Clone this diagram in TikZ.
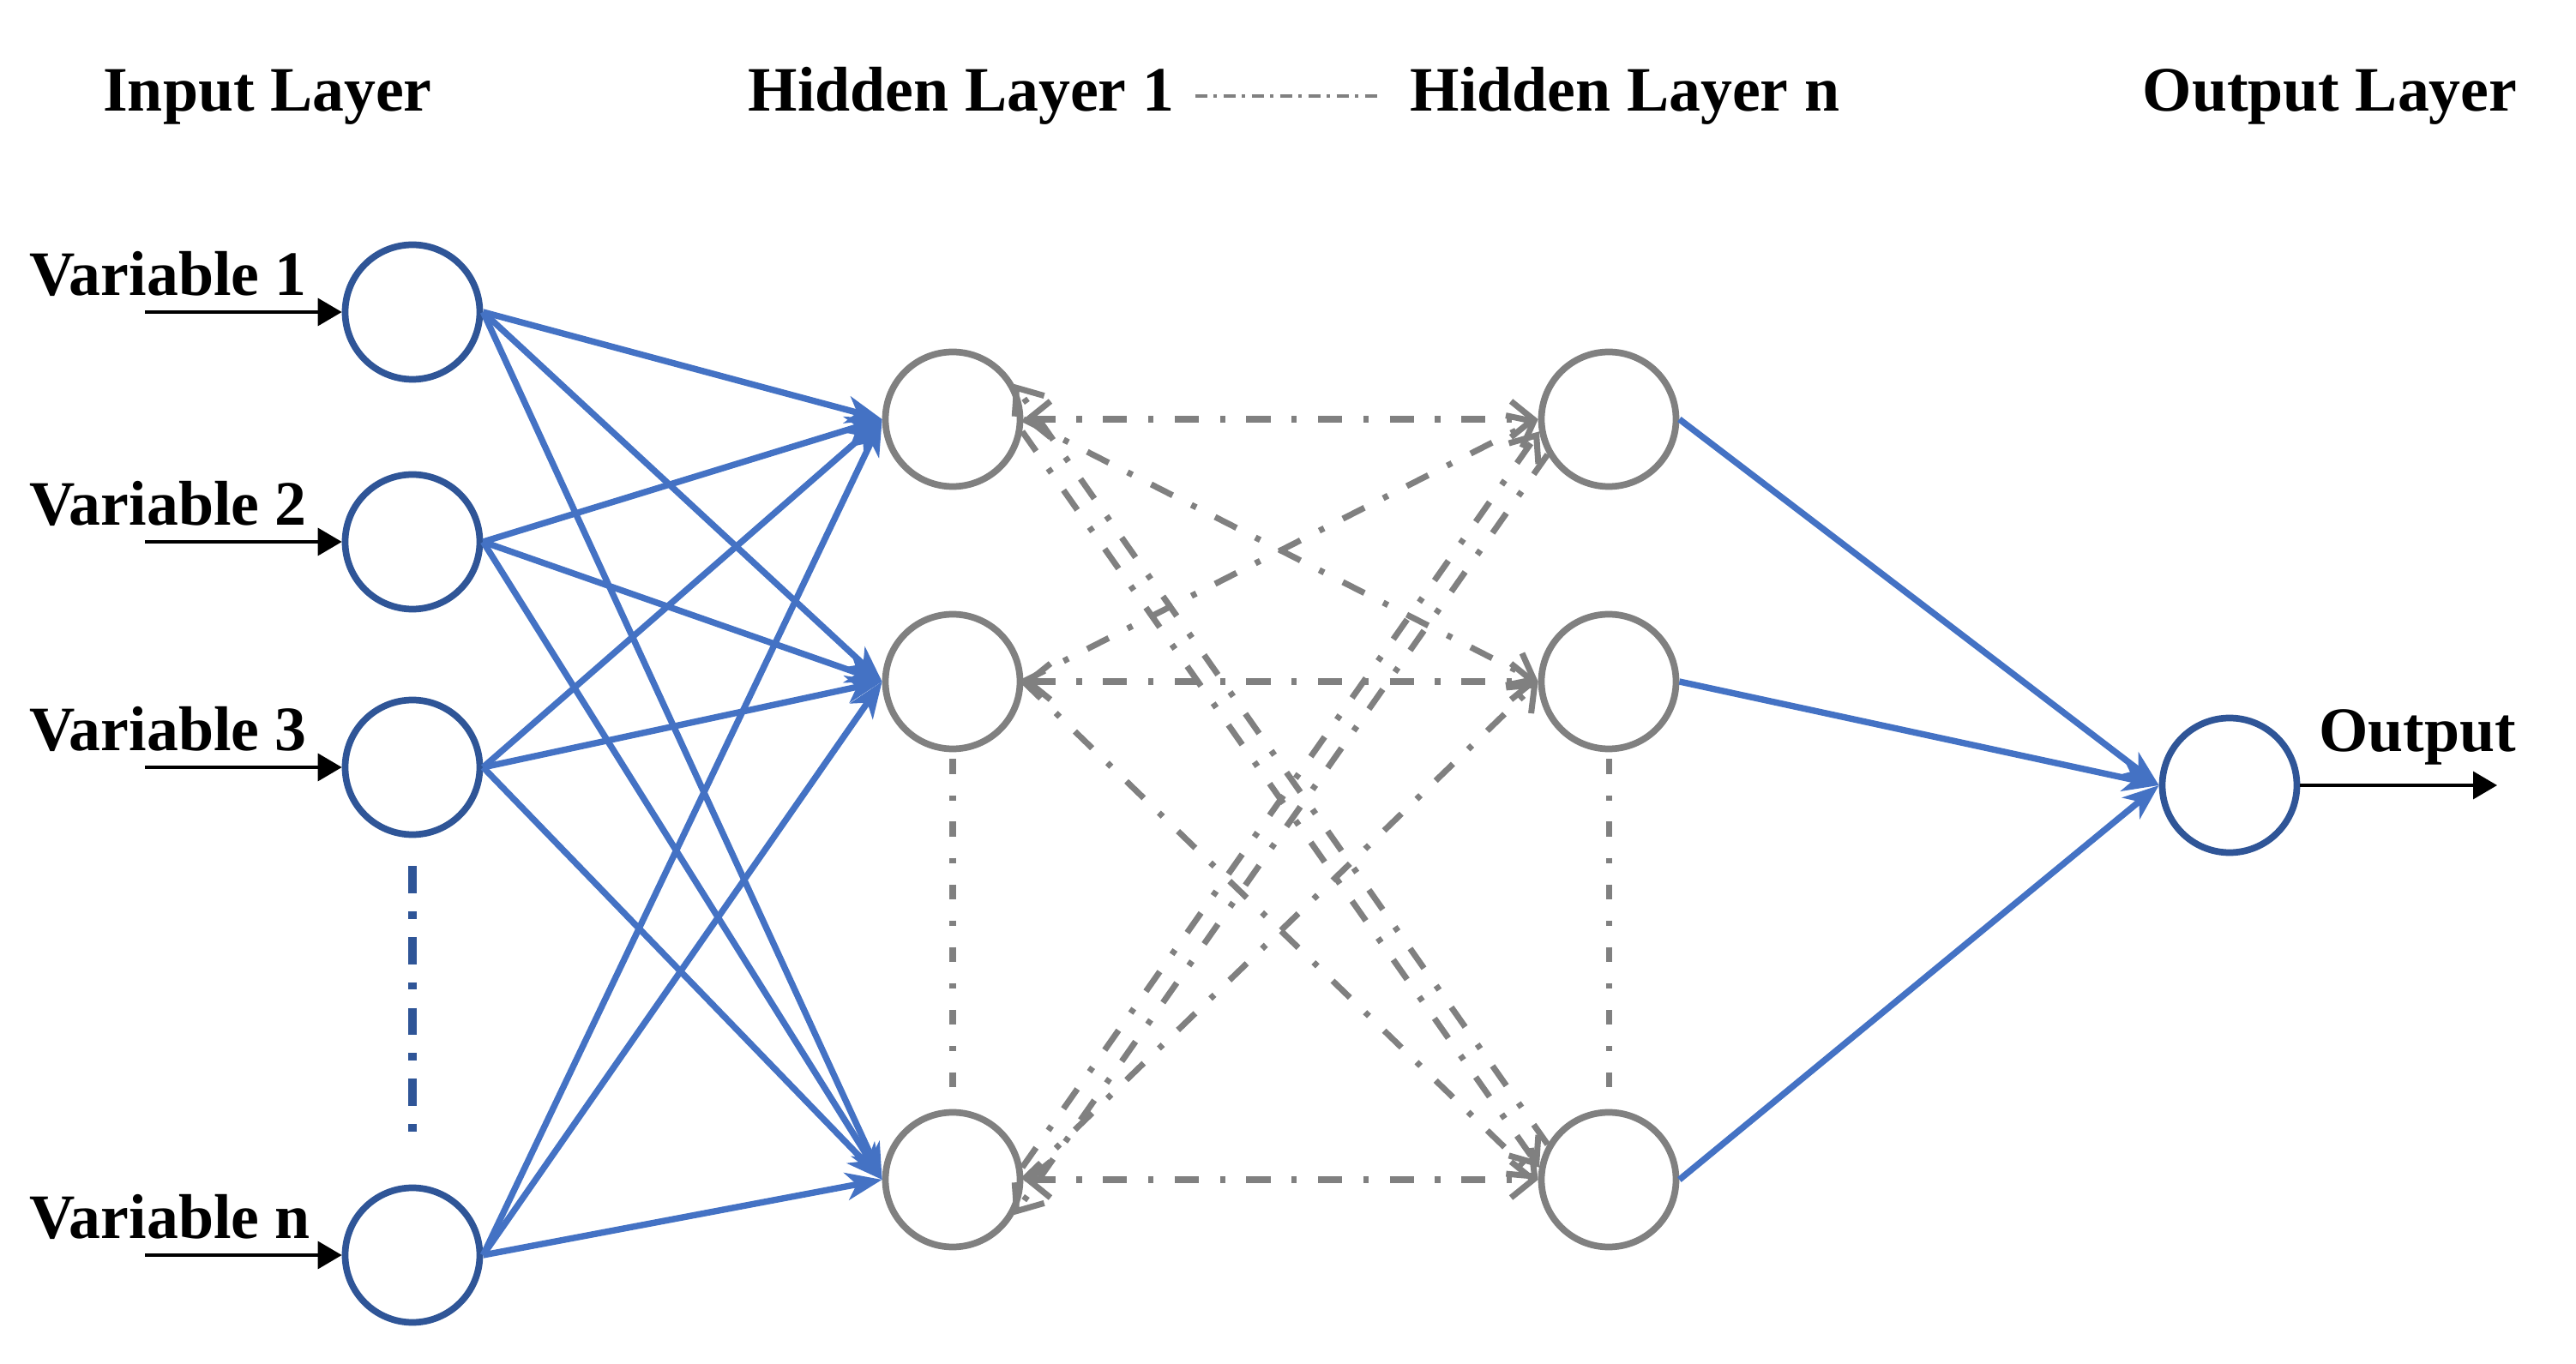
\documentclass[tikz,border=0pt]{standalone}
\usepackage{fontspec}
\setmainfont{Liberation Serif}
\usepackage{tikz}
\usetikzlibrary{arrows.meta, positioning}

\definecolor{linkblue}{HTML}{4472C4}
\definecolor{nodeblue}{HTML}{2F5597}
\definecolor{hidgray}{HTML}{808080}

\begin{document}
\begin{tikzpicture}[
    every node/.style={font=\fontsize{21}{25}\selectfont\bfseries},
    inneuron/.style={circle, draw=nodeblue, line width=2.2pt, fill=white,
                     minimum size=1.57cm, inner sep=0pt},
    hidneuron/.style={circle, draw=hidgray, line width=2.2pt, fill=white,
                      minimum size=1.57cm, inner sep=0pt},
    link/.style={linkblue, line width=2.1pt,
                 -{Stealth[length=4.2mm, width=3.2mm, inset=1.2mm]}},
    hidlink/.style={hidgray, line width=2pt,
                    dash pattern=on 8pt off 7pt on 1.8pt off 7pt,
                    >={Straight Barb[length=2.6mm, width=4.2mm]}},
    feed/.style={black, line width=1pt, -{Triangle[length=2.8mm, width=3.2mm]}},
    titledash/.style={hidgray, line width=1.1pt,
                      dash pattern=on 4pt off 2.2pt on 1pt off 2.2pt},
    bluedots/.style={nodeblue, line width=2.6pt,
                     dash pattern=on 9pt off 6pt on 2.5pt off 6pt},
    graydots/.style={hidgray, line width=2pt,
                     dash pattern=on 5pt off 7pt on 1.8pt off 7pt}
  ]
  \def\xin{4.81}
  \def\xha{11.11}
  \def\xhn{18.76}
  \def\xout{26.00}
  \def\ytitle{14.60}

  \useasboundingbox (0,0) rectangle (30.04,15.90);

  % Layer titles -----------------------------------------------------------
  \node[anchor=base] (tin)  at (3.12,\ytitle)  {Input Layer};
  \node[anchor=base] (th1)  at (11.21,\ytitle) {Hidden Layer 1};
  \node[anchor=base] (thn)  at (18.95,\ytitle) {Hidden Layer n};
  \node[anchor=base] (tout) at (27.17,\ytitle) {Output Layer};
  \draw[titledash, shorten <=0.12cm, shorten >=0.2cm] (th1) -- (thn);

  % Input layer ------------------------------------------------------------
  \foreach \i/\y in {1/12.26, 2/9.58, 3/6.95, n/1.26} {
    \node[inneuron] (in\i) at (\xin,\y) {};
    \coordinate (src\i) at (1.69,\y);
    \node[anchor=base west] (var\i) at (0.22,\y+0.19) {Variable \i};
    \draw[feed] (src\i) -- (in\i.west);
  }
  \draw[bluedots] ([yshift=-0.33cm]in3.south) -- ([yshift=0.44cm]inn.north);

  % Hidden layers ----------------------------------------------------------
  \foreach \j/\y in {a/11.01, b/7.95, c/2.14} {
    \node[hidneuron] (h1\j) at (\xha,\y) {};
    \node[hidneuron] (hn\j) at (\xhn,\y) {};
  }
  \draw[graydots] ([yshift=-0.08cm]h1b.south) -- ([yshift=0.24cm]h1c.north);
  \draw[graydots] ([yshift=-0.08cm]hnb.south) -- ([yshift=0.24cm]hnc.north);

  % Output layer -----------------------------------------------------------
  \node[inneuron] (out) at (\xout,6.74) {};
  \coordinate (res) at (29.12,6.74);
  \node[anchor=base west] (outlab) at (26.92,7.13) {Output};
  \draw[feed] (out.east) -- (res);

  % Input -> hidden layer 1 ------------------------------------------------
  \foreach \i in {1,2,3,n}
    \foreach \j in {a,b,c}
      \draw[link] (in\i.east) -- (h1\j.west);

  % Hidden layer 1 <-> hidden layer n --------------------------------------
  \foreach \j in {a,b,c}
    \draw[hidlink, <->] (h1\j.east) -- (hn\j.west);
  \draw[hidlink, ->] (h1a.east) -- (hnb.west);
  \draw[hidlink, ->] (h1b.east) -- (hna.west);
  \draw[hidlink, ->] (h1b.east) -- (hnc.west);
  \draw[hidlink, ->] (h1c.east) -- (hnb.west);
  \draw[hidlink, ->] (h1a.-10) -- (hnc.170);
  \draw[hidlink, ->] (hnc.150) -- (h1a.30);    % back along the long diagonal
  \draw[hidlink, ->] (h1c.10) -- (hna.190);
  \draw[hidlink, ->] (hna.210) -- (h1c.-30);

  % Hidden layer n -> output -----------------------------------------------
  \foreach \j in {a,b,c}
    \draw[link] (hn\j.east) -- (out.west);

\end{tikzpicture}
\end{document}
